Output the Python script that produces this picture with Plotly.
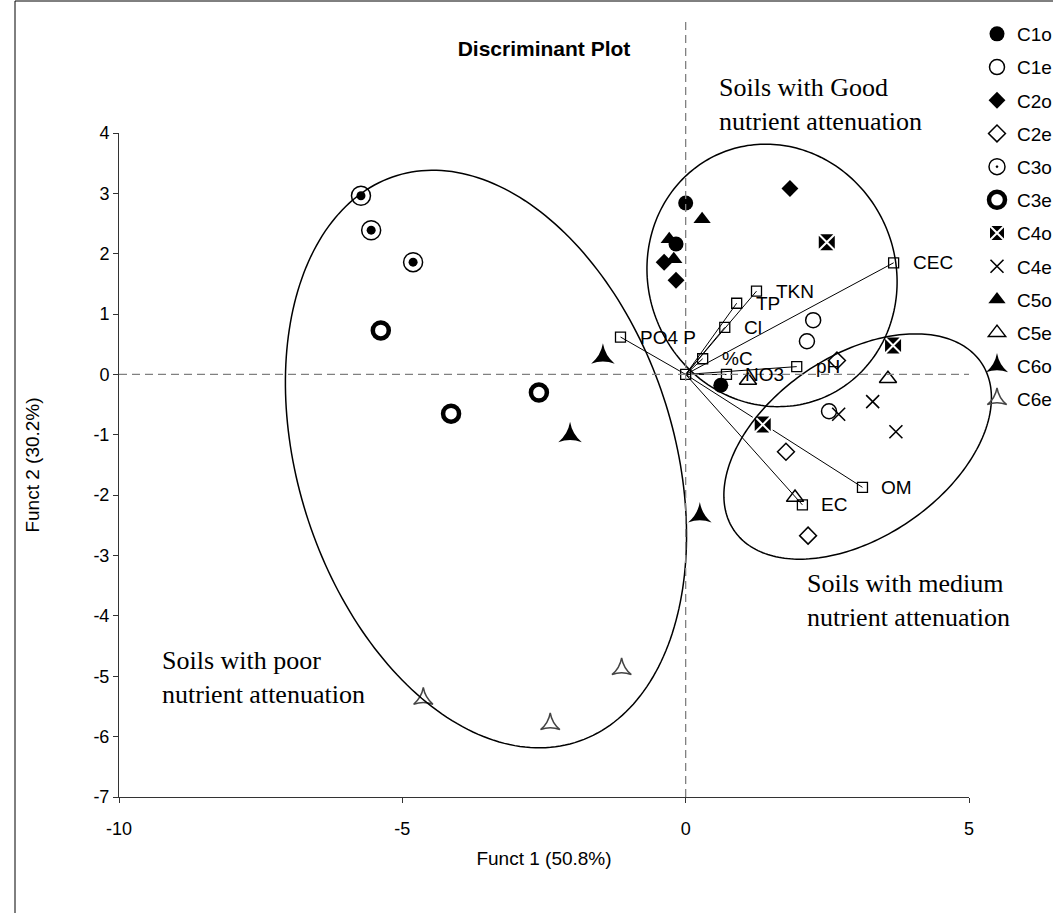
import numpy as np
import plotly.graph_objects as go

# ---------------- data ----------------
groups = ["C1o", "C1e", "C2o", "C2e", "C3o", "C3e", "C4o", "C4e", "C5o", "C5e", "C6o", "C6e"]
C1o_x = [0.00, -0.17, 0.62];  C1o_y = [2.84, 2.16, -0.18]
C1e_x = [2.25, 2.14, 2.53];   C1e_y = [0.90, 0.55, -0.61]
C2o_x = [1.84, -0.38, -0.17]; C2o_y = [3.08, 1.86, 1.56]
C2e_x = [2.67, 1.77, 2.16];   C2e_y = [0.23, -1.28, -2.67]
C3o_x = [-5.73, -5.55, -4.81]; C3o_y = [2.96, 2.39, 1.86]
C3e_x = [-5.38, -2.59, -4.14]; C3e_y = [0.73, -0.30, -0.65]
C4o_x = [2.49, 3.66, 1.36];   C4o_y = [2.19, 0.48, -0.83]
C4e_x = [2.70, 3.30, 3.71];   C4e_y = [-0.66, -0.45, -0.95]
C5o_x = [0.29, -0.29, -0.21]; C5o_y = [2.57, 2.24, 1.91]
C5e_x = [1.10, 3.57, 1.93];   C5e_y = [-0.10, -0.07, -2.04]
C6o_x = [-1.46, -2.04, 0.25]; C6o_y = [0.29, -1.01, -2.34]
C6e_x = [-4.63, -2.39, -1.13]; C6e_y = [-5.37, -5.79, -4.88]

vec_names = ["PO4 P", "%C", "Cl", "TP", "TKN", "CEC", "NO3", "pH", "OM", "EC"]
vec_x = [-1.15, 0.30, 0.69, 0.90, 1.25, 3.67, 0.72, 1.96, 3.12, 2.06]
vec_y = [0.62, 0.26, 0.78, 1.18, 1.38, 1.85, 0.00, 0.13, -1.87, -2.16]

# group ellipses: centre x, centre y, semi-axis a, semi-axis b, angle (deg) in data units
ell_cx = [-3.524, 1.524, 3.035]
ell_cy = [-1.401, 1.641, -1.194]
ell_a = [3.295, 2.133, 1.534]
ell_b = [4.956, 2.247, 2.589]
ell_ang = [-159.56, 53.42, 120.63]

x_ticks = [-10, -5, 0, 5]
y_ticks = [-7, -6, -5, -4, -3, -2, -1, 0, 1, 2, 3, 4]

X0, X1, Y0, Y1 = -10, 5, -7, 4
def to_paper(x, y):
    return (np.asarray(x) - X0) / (X1 - X0), (np.asarray(y) - Y0) / (Y1 - Y0)

fig = go.Figure()
shapes = []
t = np.linspace(0, 2 * np.pi, 241)
for cx, cy, a, b, ang in zip(ell_cx, ell_cy, ell_a, ell_b, ell_ang):
    th = np.radians(ang)
    ex = cx + a * np.cos(t) * np.cos(th) - b * np.sin(t) * np.sin(th)
    ey = cy + a * np.cos(t) * np.sin(th) + b * np.sin(t) * np.cos(th)
    px, py = to_paper(ex, ey)
    path = "M" + " L".join("%.5f,%.5f" % (u, v) for u, v in zip(px, py)) + " Z"
    shapes.append(dict(type="path", xref="paper", yref="paper", path=path, line=dict(color="black", width=1.5)))

# vectors
for vx, vy in zip(vec_x, vec_y):
    fig.add_trace(go.Scatter(x=[0, vx], y=[0, vy], mode="lines", line=dict(color="black", width=1),
                             showlegend=False, hoverinfo="skip"))
fig.add_trace(go.Scatter(x=[0] + vec_x, y=[0] + vec_y, mode="markers",
                         marker=dict(symbol="square-open", size=10, color="black", line=dict(width=1.3)),
                         showlegend=False, hoverinfo="skip"))

data = {
    "C1o": (C1o_x, C1o_y, dict(symbol="circle", size=15, color="black")),
    "C1e": (C1e_x, C1e_y, dict(symbol="circle-open", size=15, color="black", line=dict(width=1.5))),
    "C2o": (C2o_x, C2o_y, dict(symbol="diamond", size=13, color="black")),
    "C2e": (C2e_x, C2e_y, dict(symbol="diamond-open", size=13, color="black", line=dict(width=1.5))),
    "C3o": (C3o_x, C3o_y, dict(symbol="circle-open-dot", size=19, color="black", line=dict(width=1.5))),
    "C3e": (C3e_x, C3e_y, dict(symbol="circle-open", size=16, color="black", line=dict(width=4.5))),
    "C4o": (C4o_x, C4o_y, dict(symbol="square-x", size=18, color="black", line=dict(width=2, color="white"))),
    "C4e": (C4e_x, C4e_y, dict(symbol="x-thin-open", size=13, color="black", line=dict(width=1.6))),
    "C5o": (C5o_x, C5o_y, dict(symbol="triangle-up", size=15, color="black")),
    "C5e": (C5e_x, C5e_y, dict(symbol="triangle-up-open", size=15, color="black", line=dict(width=1.5))),
    "C6o": (C6o_x, C6o_y, dict(symbol="star-triangle-up", size=17, color="black")),
    "C6e": (C6e_x, C6e_y, dict(symbol="star-triangle-up-open", size=14, color="#444444", line=dict(width=1.5))),
}
for g in groups:
    xs, ys, mk = data[g]
    fig.add_trace(go.Scatter(x=xs, y=ys, mode="markers", name=g, marker=mk, legendgroup=g))
    if g == "C3o":
        fig.add_trace(go.Scatter(x=xs, y=ys, mode="markers", marker=dict(symbol="circle", size=9, color="black"),
                                 showlegend=False, hoverinfo="skip", legendgroup=g))

ann = []
for n, vx, vy in zip(vec_names, vec_x, vec_y):
    ann.append(dict(x=vx, y=vy, text=n, showarrow=False, xanchor="left", xshift=17,
                    font=dict(family="Arial, Liberation Sans", size=19, color="black")))
serif = dict(family="Liberation Serif, Times New Roman", size=26, color="black")
ann.append(dict(xref="paper", yref="paper", x=(717 - 119) / 850, y=(797 - 105) / 664, text="Soils with Good<br>nutrient attenuation",
                showarrow=False, xanchor="left", yanchor="middle", align="left", font=serif))
ann.append(dict(xref="paper", yref="paper", x=(805 - 119) / 850, y=(797 - 600) / 664, text="Soils with medium<br>nutrient attenuation",
                showarrow=False, xanchor="left", yanchor="middle", align="left", font=serif))
ann.append(dict(xref="paper", yref="paper", x=(160 - 119) / 850, y=(797 - 677) / 664, text="Soils with poor<br>nutrient attenuation",
                showarrow=False, xanchor="left", yanchor="middle", align="left", font=serif))

shapes += [
    dict(type="line", xref="paper", yref="paper", x0=10 / 15, x1=10 / 15, y0=0, y1=(797 - 20) / 664,
         line=dict(color="#808080", width=1.3, dash="8px,5px")),
    dict(type="line", xref="paper", yref="paper", x0=0, x1=1, y0=7 / 11, y1=7 / 11,
         line=dict(color="#808080", width=1.3, dash="8px,5px")),
    dict(type="line", xref="paper", yref="paper", x0=(15 - 119) / 850, x1=(15 - 119) / 850, y0=(797 - 915) / 664, y1=(797 - 1) / 664,
         line=dict(color="black", width=1)),
    dict(type="line", xref="paper", yref="paper", x0=(15 - 119) / 850, x1=(1053 - 119) / 850, y0=(797 - 1) / 664, y1=(797 - 1) / 664,
         line=dict(color="black", width=1)),
]

axfont = dict(family="Arial, Liberation Sans", size=18, color="black")
fig.update_layout(
    width=1054, height=913,
    margin=dict(l=119, r=85, t=133, b=116, autoexpand=False),
    paper_bgcolor="white", plot_bgcolor="white",
    title=dict(text="<b>Discriminant Plot</b>", x=544 / 1054, xanchor="center", y=1 - 49 / 913, yanchor="middle",
               font=dict(family="Arial, Liberation Sans", size=21, color="black")),
    xaxis=dict(range=[X0, X1], tickvals=x_ticks, ticktext=[str(v) for v in x_ticks], showgrid=False, zeroline=False,
               showline=True, linecolor="#333333", linewidth=1, ticks="outside", ticklen=5, tickcolor="#333333",
               tickfont=axfont, ticklabelstandoff=10,
               title=dict(text="Funct 1 (50.8%)", font=dict(family="Arial, Liberation Sans", size=19, color="black"), standoff=14)),
    yaxis=dict(range=[Y0, Y1], tickvals=y_ticks, ticktext=[str(v) for v in y_ticks], showgrid=False, zeroline=False,
               showline=True, linecolor="#333333", linewidth=1, ticks="outside", ticklen=5, tickcolor="#333333",
               tickfont=axfont,
               title=dict(text="Funct 2 (30.2%)", font=dict(family="Arial, Liberation Sans", size=19, color="black"), standoff=48)),
    legend=dict(x=(977 - 119) / 850, xanchor="left", y=(797 - 15) / 664, yanchor="top", tracegroupgap=5.5,
                font=dict(family="Arial, Liberation Sans", size=19, color="black"), bgcolor="rgba(0,0,0,0)"),
    annotations=ann, shapes=shapes, showlegend=True,
)
fig.write_html("out.html")
